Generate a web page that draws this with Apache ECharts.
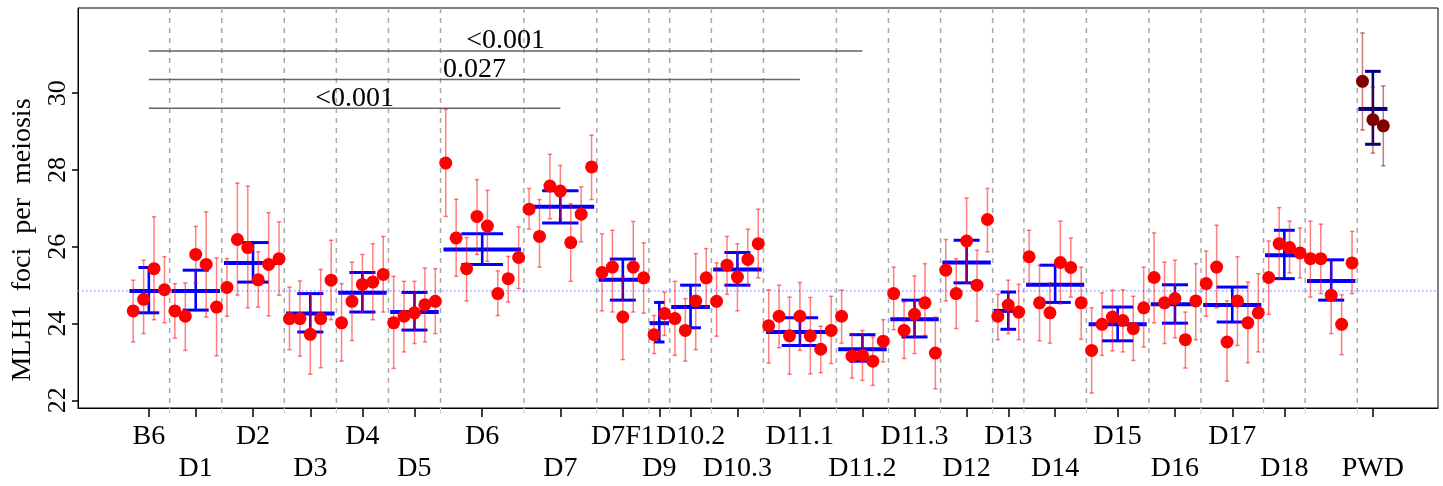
<!DOCTYPE html>
<html>
<head>
<meta charset="utf-8">
<script src="https://cdn.jsdelivr.net/npm/echarts@6/dist/echarts.min.js"></script>
<style>
  html, body { margin: 0; padding: 0; background: #fff; }
  #chart { width: 1443px; height: 486px; }
</style>
</head>
<body>
<div id="chart"></div>
<script>
const groups = ['B6', 'D1', 'D2', 'D3', 'D4', 'D5', 'D6', 'D7', 'D7F1', 'D9', 'D10.2', 'D10.3',
  'D11.1', 'D11.2', 'D11.3', 'D12', 'D13', 'D14', 'D15', 'D16', 'D17', 'D18', 'D19', 'PWD']
const groupSize = [4, 5, 6, 5, 5, 5, 8, 7, 5, 2, 4, 5, 7, 5, 5, 5, 3, 6, 6, 5, 6, 4, 5, 3]

// one value per mouse, in plotting order (group after group)
const mouseMean = [
  24.33, 24.63, 25.43, 24.88,
  24.33, 24.19, 25.80, 25.54, 24.43,
  24.94, 26.19, 25.98, 25.14, 25.54, 25.69,
  24.13, 24.13, 23.72, 24.13, 25.13,
  24.02, 24.58, 25.02, 25.08, 25.28,
  24.02, 24.19, 24.28, 24.49, 24.58,
  28.18, 26.23, 25.43, 26.79, 26.54, 24.78, 25.17, 25.72,
  26.98, 26.27, 27.58, 27.45, 26.11, 26.85, 28.08,
  25.33, 25.47, 24.17, 25.47, 25.19,
  23.71, 24.26,
  24.13, 23.82, 24.59, 25.19,
  24.58, 25.52, 25.21, 25.67, 26.08,
  23.94, 24.19, 23.68, 24.19, 23.68, 23.33, 23.82,
  24.19, 23.15, 23.17, 23.02, 23.54,
  24.78, 23.82, 24.24, 24.54, 23.23,
  25.39, 24.78, 26.15, 25.00, 26.71,
  24.19, 24.48, 24.30,
  25.74, 24.54, 24.28, 25.59, 25.46, 24.54,
  23.30, 23.98, 24.17, 24.08, 23.87, 24.41,
  25.20, 24.54, 24.65, 23.58, 24.59,
  25.04, 25.47, 23.52, 24.59, 24.02, 24.28,
  25.20, 26.08, 25.98, 25.84,
  25.69, 25.69, 24.74, 23.98, 25.58,
  30.31, 29.31, 29.15
]
const mouseLow = [
  23.52, 23.74, 24.10, 24.02,
  23.62, 23.30, 25.06, 24.17, 23.16,
  24.19, 24.74, 24.41, 24.43, 24.20, 24.74,
  23.32, 23.15, 22.68, 22.85, 24.10,
  23.02, 23.56, 24.30, 24.10, 24.30,
  22.83, 23.26, 23.48, 23.52, 23.74,
  26.79, 25.23, 24.59, 25.80, 25.62, 24.21, 24.56, 24.91,
  26.46, 25.47, 26.73, 26.73, 25.10, 26.13, 27.23,
  24.33, 24.30, 23.06, 24.30, 24.27,
  23.22, 23.69,
  23.17, 23.02, 23.32, 24.43,
  23.67, 24.76, 24.33, 24.98, 25.19,
  22.97, 23.37, 22.68, 23.30, 22.69, 22.72, 22.96,
  23.49, 22.58, 22.52, 22.39, 23.00,
  23.84, 23.09, 23.22, 23.69, 22.30,
  24.59, 23.87, 25.06, 24.06, 25.87,
  23.58, 23.74, 23.58,
  25.04, 23.55, 23.49, 24.51, 24.69, 23.59,
  22.19, 23.17, 23.29, 23.26, 23.04, 23.39,
  24.02, 23.48, 23.63, 22.84, 23.58,
  24.19, 24.41, 22.50, 23.43, 22.98, 23.26,
  24.24, 25.15, 25.32, 25.19,
  24.69, 24.78, 23.74, 23.19, 24.78,
  29.04, 28.44, 28.11
]
const mouseHigh = [
  25.13, 25.65, 26.78, 25.74,
  25.04, 25.06, 26.53, 26.91, 25.71,
  25.69, 27.66, 27.58, 25.87, 26.89, 26.65,
  24.95, 25.11, 24.76, 25.41, 26.17,
  25.04, 25.60, 25.80, 26.08, 26.27,
  25.23, 25.10, 25.10, 25.45, 25.43,
  29.58, 27.24, 26.24, 27.75, 27.47, 25.37, 25.75, 26.52,
  27.52, 27.23, 28.41, 28.12, 27.12, 27.56, 28.91,
  26.34, 26.43, 25.23, 26.66, 26.10,
  24.21, 24.82,
  25.10, 24.65, 25.82, 25.95,
  25.58, 26.27, 26.08, 26.46, 26.98,
  24.88, 25.00, 24.69, 25.07, 24.68, 23.93, 24.71,
  24.87, 23.74, 23.82, 23.65, 24.10,
  25.47, 24.56, 25.24, 25.56, 24.17,
  26.19, 25.69, 27.27, 25.91, 27.52,
  24.76, 25.13, 25.02,
  26.43, 25.52, 25.06, 26.67, 26.23, 25.47,
  24.41, 24.80, 24.87, 24.88, 24.71, 25.47,
  26.36, 25.60, 25.65, 24.30, 25.56,
  25.89, 26.56, 24.59, 25.74, 25.08, 25.30,
  26.15, 27.02, 26.67, 26.49,
  26.67, 26.59, 25.62, 24.75, 26.40,
  31.57, 30.16, 30.19
]

const groupMean = [24.85, 24.85, 25.58, 24.26, 24.80, 24.30, 25.93, 27.04, 25.14, 24.01, 24.43, 25.41,
  23.78, 23.33, 24.11, 25.59, 24.33, 25.01, 23.98, 24.50, 24.48, 25.78, 25.11, 29.59]
const groupLow = [24.28, 24.35, 25.08, 23.78, 24.30, 23.83, 25.54, 26.62, 24.61, 23.52, 23.89, 25.00,
  23.43, 23.02, 23.65, 25.06, 23.85, 24.55, 23.55, 24.01, 24.04, 25.17, 24.61, 28.67]
const groupHigh = [25.46, 25.39, 26.11, 24.78, 25.33, 24.81, 26.34, 27.46, 25.68, 24.55, 25.00, 25.85,
  24.15, 23.71, 24.61, 26.17, 24.82, 25.52, 24.43, 25.01, 24.95, 26.43, 25.66, 30.57]

const refLevel = 24.85
const yTicks = [22, 24, 26, 28, 30]

const pFrom = ['B6', 'B6', 'B6']
const pTo = ['D11.2', 'D11.1', 'D7']
const pLevel = [31.10, 30.36, 29.61]
const pText = ['<0.001', '0.027', '<0.001']

const FONT = '"Liberation Serif", "DejaVu Serif", serif'
const parentIdx = groups.indexOf('PWD')

// positions on the x axis: one slot per mouse
const starts = []
let acc = 0
groupSize.forEach((n) => { starts.push(acc); acc += n })
const centers = groupSize.map((n, g) => starts[g] + (n - 1) / 2)
const separators = starts.slice(1).map((s) => s - 0.5)

const mouseGroup = []
groupSize.forEach((n, g) => { for (let k = 0; k < n; k++) mouseGroup.push(g) })

const pointData = mouseMean.map((m, i) => [i, m, mouseGroup[i]])
const errData = mouseMean.map((m, i) => [i, mouseLow[i], mouseHigh[i], mouseGroup[i]])
const meanData = groupMean.map((m, g) => [centers[g], m, groupLow[g], groupHigh[g], groupSize[g], g])
const sigData = pText.map((t, k) => [centers[groups.indexOf(pFrom[k])], centers[groups.indexOf(pTo[k])], pLevel[k], k])

const chart = echarts.init(document.getElementById('chart'))

chart.setOption({
  animation: false,
  grid: {
    left: 78, right: 5, top: 8, bottom: 78,
    outerBoundsMode: 'none',
    containLabel: false,
    show: true, borderColor: '#000', borderWidth: 1,
  },
  xAxis: {
    type: 'value',
    min: -5.3,
    max: 125.25,
    splitLine: { show: false },
    axisLine: { show: true, onZero: false, lineStyle: { color: '#000', width: 1 } },
    axisTick: { show: true, customValues: centers, length: 9, lineStyle: { color: '#000', width: 1.5 } },
    axisLabel: {
      customValues: centers,
      showMinLabel: true,
      showMaxLabel: true,
      margin: 13,
      fontSize: 28,
      lineHeight: 32,
      fontFamily: FONT,
      color: '#000',
      formatter: (v) => {
        const g = centers.indexOf(v)
        if (g < 0) return ''
        return g % 2 ? '\n' + groups[g] : groups[g]
      },
    },
  },
  yAxis: {
    type: 'value',
    min: 21.8,
    max: 32.22,
    name: 'MLH1  foci  per  meiosis',
    nameLocation: 'middle',
    nameGap: 35,
    nameTextStyle: { fontSize: 28, fontFamily: FONT, color: '#000', padding: [0, 64, 0, 0] },
    splitLine: { show: false },
    axisLine: { show: true, onZero: false, lineStyle: { color: '#000', width: 1 } },
    axisTick: { show: true, customValues: yTicks, length: 6, lineStyle: { color: '#000', width: 1.5 } },
    axisLabel: { customValues: yTicks, showMinLabel: true, showMaxLabel: true, rotate: 90, margin: 7,
      fontSize: 26, fontFamily: FONT, color: '#000' },
  },
  series: [
    {
      // dashed group separators
      type: 'custom',
      z: 1,
      silent: true,
      data: separators.map((s) => [s]),
      encode: { x: 0 },
      renderItem(params, api) {
        const cs = params.coordSys
        const x = api.coord([api.value(0), refLevel])[0]
        return {
          type: 'group',
          children: [
            { type: 'line', shape: { x1: x, y1: cs.y, x2: x, y2: cs.y + cs.height },
              style: { stroke: '#a8a8a8', lineWidth: 1.5, lineDash: [5, 5] } },
            { type: 'line', shape: { x1: x, y1: cs.y + cs.height, x2: x, y2: cs.y + cs.height + 6 },
              style: { stroke: '#cfcfcf', lineWidth: 1 } },
          ],
        }
      },
    },
    {
      // B6 reference level
      type: 'custom',
      z: 1,
      silent: true,
      data: [[refLevel]],
      encode: { y: 0 },
      renderItem(params, api) {
        const cs = params.coordSys
        const y = api.coord([0, api.value(0)])[1]
        return { type: 'line', shape: { x1: cs.x, y1: y, x2: cs.x + cs.width, y2: y },
          style: { stroke: '#8c8cff', lineWidth: 1.3, lineDash: [1.5, 2.5] } }
      },
    },
    {
      // significance brackets
      type: 'custom',
      z: 2,
      silent: true,
      data: sigData,
      encode: { x: [0, 1], y: 2 },
      renderItem(params, api) {
        const a = api.coord([api.value(0), api.value(2)])
        const b = api.coord([api.value(1), api.value(2)])
        return {
          type: 'group',
          children: [
            { type: 'line', shape: { x1: a[0], y1: a[1], x2: b[0], y2: b[1] },
              style: { stroke: '#666', lineWidth: 1.5 } },
            { type: 'text', style: { x: (a[0] + b[0]) / 2, y: a[1] + 4, text: pText[api.value(3)],
              textAlign: 'center', textVerticalAlign: 'bottom', fontSize: 28, fontFamily: FONT, fill: '#000' } },
          ],
        }
      },
    },
    {
      // strain mean +/- error
      type: 'custom',
      z: 3,
      silent: true,
      data: meanData,
      encode: { x: 0, y: [1, 2, 3] },
      renderItem(params, api) {
        const c = api.value(0)
        const n = api.value(4)
        const unit = api.size([1, 0])[0]
        const pm = api.coord([c, api.value(1)])
        const lo = api.coord([c, api.value(2)])
        const hi = api.coord([c, api.value(3)])
        const hw = n / 2 * 0.93 * unit
        const cw = n / 4 * unit
        const col = api.value(5) === parentIdx ? '#000080' : '#0000ff'
        return {
          type: 'group',
          children: [
            { type: 'line', shape: { x1: pm[0], y1: lo[1], x2: pm[0], y2: hi[1] }, style: { stroke: col, lineWidth: 2.6 } },
            { type: 'line', shape: { x1: pm[0] - cw, y1: lo[1], x2: pm[0] + cw, y2: lo[1] }, style: { stroke: col, lineWidth: 3 } },
            { type: 'line', shape: { x1: pm[0] - cw, y1: hi[1], x2: pm[0] + cw, y2: hi[1] }, style: { stroke: col, lineWidth: 3 } },
            { type: 'line', shape: { x1: pm[0] - hw, y1: pm[1], x2: pm[0] + hw, y2: pm[1] }, style: { stroke: col, lineWidth: 4 } },
          ],
        }
      },
    },
    {
      // per-mouse error bars
      type: 'custom',
      z: 4,
      silent: true,
      data: errData,
      encode: { x: 0, y: [1, 2] },
      renderItem(params, api) {
        const x = api.value(0)
        const lo = api.coord([x, api.value(1)])
        const hi = api.coord([x, api.value(2)])
        const col = api.value(3) === parentIdx ? 'rgba(128,0,0,0.5)' : 'rgba(255,0,0,0.5)'
        const st = { stroke: col, lineWidth: 1.5 }
        return {
          type: 'group',
          children: [
            { type: 'line', shape: { x1: lo[0], y1: lo[1], x2: hi[0], y2: hi[1] }, style: st },
            { type: 'line', shape: { x1: lo[0] - 2.2, y1: lo[1], x2: lo[0] + 2.2, y2: lo[1] }, style: st },
            { type: 'line', shape: { x1: hi[0] - 2.2, y1: hi[1], x2: hi[0] + 2.2, y2: hi[1] }, style: st },
          ],
        }
      },
    },
    {
      type: 'scatter',
      z: 5,
      silent: true,
      symbolSize: 13,
      data: pointData,
      encode: { x: 0, y: 1 },
      itemStyle: {
        opacity: 1,
        color: (p) => (p.data[2] === parentIdx ? '#800000' : '#ff0000'),
      },
    },
  ],
})
</script>
</body>
</html>
